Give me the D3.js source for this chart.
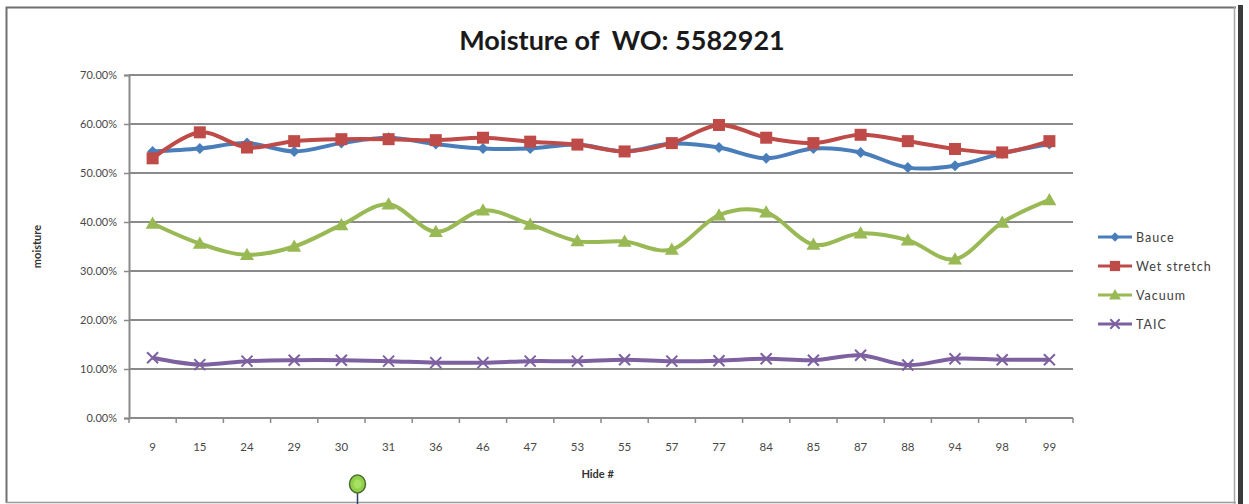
<!DOCTYPE html>
<html>
<head>
<meta charset="utf-8">
<script src="https://cdn.jsdelivr.net/npm/d3@7"></script>
<style>
  html, body { margin: 0; padding: 0; background: #fff; }
  svg { display: block; }
  text { font-family: Lato, "Open Sans", sans-serif; }
</style>
</head>
<body>
<svg id="chart" width="1249" height="504"></svg>
<script>
// Hide numbers along the category axis
const hides = ["9","15","24","29","30","31","36","46","47","53","55","57","77","84","85","87","88","94","98","99"];

// Moisture readings (%) per hide for each measurement method
const bauce       = [54.4, 55.0, 56.1, 54.4, 56.1, 57.2, 55.9, 55.0, 55.0, 55.8, 54.4, 56.0, 55.2, 53.0, 55.0, 54.2, 51.1, 51.5, 54.0, 55.9];
const wetStretch  = [53.0, 58.3, 55.2, 56.5, 56.9, 56.9, 56.7, 57.2, 56.4, 55.8, 54.4, 56.1, 59.8, 57.2, 56.1, 57.8, 56.5, 54.9, 54.2, 56.5];
const vacuum      = [39.7, 35.6, 33.3, 35.0, 39.4, 43.6, 38.0, 42.4, 39.5, 36.1, 36.0, 34.4, 41.4, 42.0, 35.4, 37.7, 36.3, 32.4, 39.9, 44.5];
const taic        = [12.3, 10.9, 11.6, 11.8, 11.8, 11.6, 11.3, 11.3, 11.6, 11.6, 11.9, 11.6, 11.7, 12.1, 11.8, 12.8, 10.8, 12.1, 11.9, 11.9];

const seriesNames = ["Bauce", "Wet stretch", "Vacuum", "TAIC"];
const yTicks = [0, 10, 20, 30, 40, 50, 60, 70];

const series = [
  { name: seriesNames[0], values: bauce,      color: "#4A7EBB", marker: "diamond" },
  { name: seriesNames[1], values: wetStretch, color: "#BE4B48", marker: "square" },
  { name: seriesNames[2], values: vacuum,     color: "#98B954", marker: "triangle" },
  { name: seriesNames[3], values: taic,       color: "#7D60A0", marker: "cross" }
];

const svg = d3.select("#chart");
const plot = { left: 129, right: 1073, top: 75, bottom: 418 };

const x = d3.scaleBand().domain(hides).range([plot.left, plot.right]).padding(0);
const xc = d => x(d) + x.bandwidth() / 2;
const y = d3.scaleLinear().domain([0, 70]).range([plot.bottom, plot.top]);

// Chart frame
svg.append("rect").attr("x", 0).attr("y", 0).attr("width", 1249).attr("height", 504).attr("fill", "#fff");
svg.append("path")
  .attr("d", "M6.5,503 L6.5,7.5 L1236,7.5")
  .attr("fill", "none").attr("stroke", "#707070").attr("stroke-width", 2);
svg.append("line").attr("x1", 6).attr("x2", 1236).attr("y1", 502.5).attr("y2", 502.5)
  .attr("stroke", "#9a9a9a").attr("stroke-width", 1.5);
svg.append("line").attr("x1", 1234.5).attr("x2", 1234.5).attr("y1", 7).attr("y2", 504)
  .attr("stroke", "#a8a8a8").attr("stroke-width", 1.5);
svg.append("rect").attr("x", 1238).attr("y", 5).attr("width", 5).attr("height", 499).attr("fill", "#3c3c3c");

// Title
svg.append("text")
  .attr("x", 622).attr("y", 50)
  .attr("text-anchor", "middle")
  .attr("font-size", 27).attr("font-weight", "bold").attr("fill", "#1a1a1a")
  .attr("xml:space", "preserve")
  .text("Moisture of  WO: 5582921");

// Horizontal gridlines
svg.append("g").selectAll("line")
  .data(yTicks.filter(t => t > 0))
  .join("line")
  .attr("x1", plot.left).attr("x2", plot.right)
  .attr("y1", d => y(d)).attr("y2", d => y(d))
  .attr("stroke", "#8a8a8a").attr("stroke-width", 2);

// Y axis
const yAxis = svg.append("g")
  .attr("transform", `translate(${plot.left},0)`)
  .call(d3.axisLeft(y).tickValues(yTicks).tickSize(5).tickPadding(7)
    .tickFormat(d => d3.format(".2f")(d) + "%"));
yAxis.select(".domain").attr("stroke", "#8a8a8a").attr("stroke-width", 2);
yAxis.selectAll(".tick line").attr("stroke", "#8a8a8a").attr("stroke-width", 1.5);
yAxis.selectAll(".tick text").attr("font-size", 11).attr("fill", "#484848")
  .attr("font-family", "Lato, sans-serif");

// X axis with ticks at category boundaries
const xAxis = svg.append("g").attr("transform", `translate(0,${plot.bottom})`);
xAxis.append("line").attr("x1", plot.left).attr("x2", plot.right)
  .attr("stroke", "#8a8a8a").attr("stroke-width", 2);
const bounds = hides.map(h => x(h)).concat([plot.right]);
xAxis.selectAll(".xt").data(bounds).join("line")
  .attr("class", "xt")
  .attr("x1", d => d).attr("x2", d => d).attr("y1", 0).attr("y2", 5)
  .attr("stroke", "#8a8a8a").attr("stroke-width", 1.5);
xAxis.selectAll(".xl").data(hides).join("text")
  .attr("class", "xl")
  .attr("x", d => xc(d)).attr("y", 33)
  .attr("text-anchor", "middle")
  .attr("font-size", 11.5).attr("fill", "#484848")
  .text(d => d);

// Axis titles
svg.append("text")
  .attr("x", xc("55") - 27).attr("y", 478)
  .attr("text-anchor", "middle")
  .attr("font-size", 11).attr("font-weight", "bold").attr("fill", "#333")
  .text("Hide #");
svg.append("text")
  .attr("transform", `translate(41,${(plot.top + plot.bottom) / 2}) rotate(-90)`)
  .attr("text-anchor", "middle")
  .attr("font-size", 11).attr("font-weight", "bold").attr("fill", "#333")
  .text("moisture");

// Marker shapes
function drawMarker(g, type, color, cx, cy, scale = 1) {
  if (type === "diamond") {
    const r = 5.5 * scale;
    g.append("path").attr("d", `M${cx},${cy - r}L${cx + r},${cy}L${cx},${cy + r}L${cx - r},${cy}Z`)
      .attr("fill", color);
  } else if (type === "square") {
    const s = 12 * scale;
    g.append("rect").attr("x", cx - s / 2).attr("y", cy - s / 2).attr("width", s).attr("height", s)
      .attr("fill", color);
  } else if (type === "triangle") {
    const r = 7 * scale;
    g.append("path").attr("d", `M${cx},${cy - r}L${cx + r},${cy + r * 0.75}L${cx - r},${cy + r * 0.75}Z`)
      .attr("fill", color);
  } else if (type === "cross") {
    const r = 5.5 * scale;
    g.append("path").attr("d", `M${cx - r},${cy - r}L${cx + r},${cy + r}M${cx - r},${cy + r}L${cx + r},${cy - r}`)
      .attr("stroke", color).attr("stroke-width", 2).attr("fill", "none");
  }
}

// Smoothed series lines with markers
const line = d3.line()
  .x((d, i) => xc(hides[i]))
  .y(d => y(d))
  .curve(d3.curveCatmullRom.alpha(0));

const drawOrder = [3, 2, 0, 1];
drawOrder.forEach(si => {
  const s = series[si];
  const g = svg.append("g");
  g.append("path").datum(s.values)
    .attr("d", line)
    .attr("fill", "none").attr("stroke", s.color).attr("stroke-width", 4)
    .attr("stroke-linejoin", "round");
  s.values.forEach((v, i) => drawMarker(g, s.marker, s.color, xc(hides[i]), y(v)));
});

// Legend
const legend = svg.append("g");
series.forEach((s, i) => {
  const ly = 237 + i * 29;
  const g = legend.append("g");
  g.append("line").attr("x1", 1098).attr("x2", 1132).attr("y1", ly).attr("y2", ly)
    .attr("stroke", s.color).attr("stroke-width", 3);
  drawMarker(g, s.marker, s.color, 1115, ly, 0.85);
  g.append("text").attr("x", 1136).attr("y", ly + 4.5)
    .attr("font-size", 12.5).attr("fill", "#404040").attr("letter-spacing", 1)
    .text(s.name);
});

// Selection rotation handle below the chart
svg.append("line").attr("x1", 357.5).attr("x2", 357.5).attr("y1", 492).attr("y2", 504)
  .attr("stroke", "#2d3f66").attr("stroke-width", 1.5);
svg.append("ellipse").attr("cx", 357.5).attr("cy", 484).attr("rx", 8).attr("ry", 9)
  .attr("fill", "#8fd14a").attr("stroke", "#4d6b2f").attr("stroke-width", 1.5);
svg.append("ellipse").attr("cx", 357.5).attr("cy", 484).attr("rx", 4).attr("ry", 4.5)
  .attr("fill", "#a8e063");
</script>
</body>
</html>
